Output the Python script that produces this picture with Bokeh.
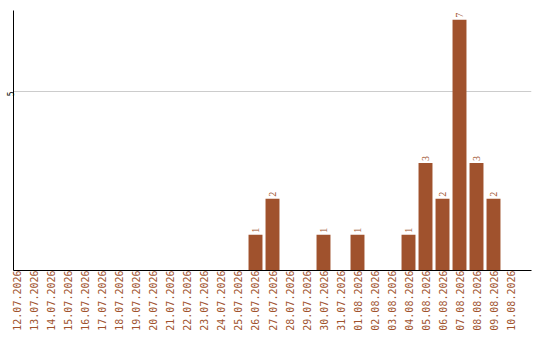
from math import pi

from bokeh.embed import file_html
from bokeh.models import ColumnDataSource, FixedTicker, Range1d
from bokeh.plotting import figure
from bokeh.resources import INLINE

# Daily counts, 12.07.2026 - 10.08.2026
dates = [
    "12.07.2026", "13.07.2026", "14.07.2026", "15.07.2026", "16.07.2026",
    "17.07.2026", "18.07.2026", "19.07.2026", "20.07.2026", "21.07.2026",
    "22.07.2026", "23.07.2026", "24.07.2026", "25.07.2026", "26.07.2026",
    "27.07.2026", "28.07.2026", "29.07.2026", "30.07.2026", "31.07.2026",
    "01.08.2026", "02.08.2026", "03.08.2026", "04.08.2026", "05.08.2026",
    "06.08.2026", "07.08.2026", "08.08.2026", "09.08.2026", "10.08.2026",
]
counts = [0, 0, 0, 0, 0, 0, 0, 0, 0, 0, 0, 0, 0, 0, 1,
          2, 0, 0, 1, 0, 1, 0, 0, 1, 3, 2, 7, 3, 2, 0]
y_ticks = [5]

BAR = "#A0522D"
FONT = "DejaVu Sans Mono"

idx = list(range(len(dates)))
src = ColumnDataSource(dict(x=idx, y=counts))
lab_x = [i for i, c in zip(idx, counts) if c > 0]
lab_y = [c for c in counts if c > 0]
lab_src = ColumnDataSource(dict(x=lab_x, y=lab_y, t=[str(c) for c in lab_y]))

p = figure(
    width=540, height=340,
    x_range=Range1d(-0.235, 30.235), y_range=Range1d(0, 7.26),
    output_backend="svg", toolbar_location=None,
    min_border_left=11, min_border_right=9, min_border_top=10, min_border_bottom=70,
)
p.outline_line_color = None
p.background_fill_color = "white"
p.border_fill_color = "white"

p.vbar(x="x", top="y", width=0.82, source=src, fill_color=BAR, line_color=None)

p.text(x="x", y="y", text="t", source=lab_src, angle=pi / 2,
       text_align="left", text_baseline="middle", y_offset=-2,
       text_color=BAR, text_font=FONT, text_font_size="10px")

# x axis: one tick per day, vertical date labels
xa = p.xaxis[0]
xa.ticker = FixedTicker(ticks=idx)
xa.major_label_overrides = {i: d for i, d in zip(idx, dates)}
xa.major_label_orientation = pi / 2
xa.major_label_text_color = BAR
xa.major_label_text_font = FONT
xa.major_label_text_font_size = "10px"
xa.major_label_standoff = 0
xa.major_tick_out = 0
xa.major_tick_in = 0
xa.major_tick_line_color = None
xa.minor_tick_line_color = None
xa.axis_line_color = "black"

# y axis
ya = p.yaxis[0]
ya.ticker = FixedTicker(ticks=y_ticks)
ya.major_label_orientation = pi / 2
ya.major_label_text_font = FONT
ya.major_label_text_font_size = "8px"
ya.major_label_text_color = "black"
ya.major_label_standoff = 3
ya.major_tick_out = 0
ya.major_tick_in = 0
ya.major_tick_line_color = None
ya.minor_tick_line_color = None
ya.axis_line_color = "black"

p.xgrid.grid_line_color = None
p.ygrid.grid_line_color = "#cccccc"
p.ygrid.ticker = FixedTicker(ticks=y_ticks)

open("out.html", "w").write(file_html(p, INLINE))
